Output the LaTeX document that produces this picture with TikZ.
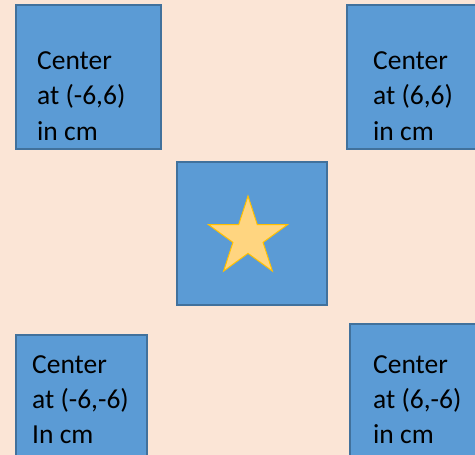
\documentclass[tikz,border=0pt]{standalone}
\usepackage{fontspec}
\setmainfont{Carlito}
\usetikzlibrary{shapes.geometric}
\definecolor{bgpeach}{HTML}{FBE5D6}
\definecolor{boxfill}{HTML}{5B9BD5}
\definecolor{boxline}{HTML}{41719C}
\definecolor{starfill}{HTML}{FFD580}
\definecolor{starline}{HTML}{FFC000}
\tikzset{
  bluebox/.style={draw=boxline, line width=2pt, fill=boxfill, rectangle, inner sep=0pt},
  label text/.style={anchor=base west, inner sep=0pt, font=\fontsize{27.5}{33}\selectfont, text=black},
}
\begin{document}
\begin{tikzpicture}[x=1pt,y=-1pt]
\useasboundingbox (0,0) rectangle (475,455);
\fill[bgpeach] (0,0) rectangle (475,455);
\clip (0,0) rectangle (475,455);
% boxes
\node[bluebox, minimum width=145pt, minimum height=144pt] (tl) at (88.5,77) {};
\node[bluebox, minimum width=145pt, minimum height=144pt] (tr) at (419.5,77) {};
\node[bluebox, minimum width=150pt, minimum height=143pt] (c) at (252,233.5) {};
\node[bluebox, minimum width=131pt, minimum height=131pt] (bl) at (81.5,400.5) {};
\node[bluebox, minimum width=145pt, minimum height=145pt] (br) at (422.5,396.5) {};
% star
\node[star, star points=5, star point ratio=2.618, minimum size=83pt, inner sep=0pt,
      draw=starline, line width=1pt, fill=starfill] (st) at (248,237.5) {};
% texts
\node[label text] (tl1) at (37,69) {Center};
\node[label text] (tl2) at (37,104.5) {at (-6,6)};
\node[label text] (tl3) at (37,140) {in cm};
\node[label text] (tr1) at (373,69) {Center};
\node[label text] (tr2) at (373,104.5) {at (6,6)};
\node[label text] (tr3) at (373,140) {in cm};
\node[label text] (bl1) at (32,373) {Center};
\node[label text] (bl2) at (32,408) {at (-6,-6)};
\node[label text] (bl3) at (32,443) {In cm};
\node[label text] (br1) at (373,373) {Center};
\node[label text] (br2) at (373,408.5) {at (6,-6)};
\node[label text] (br3) at (373,443) {in cm};
\end{tikzpicture}
\end{document}
